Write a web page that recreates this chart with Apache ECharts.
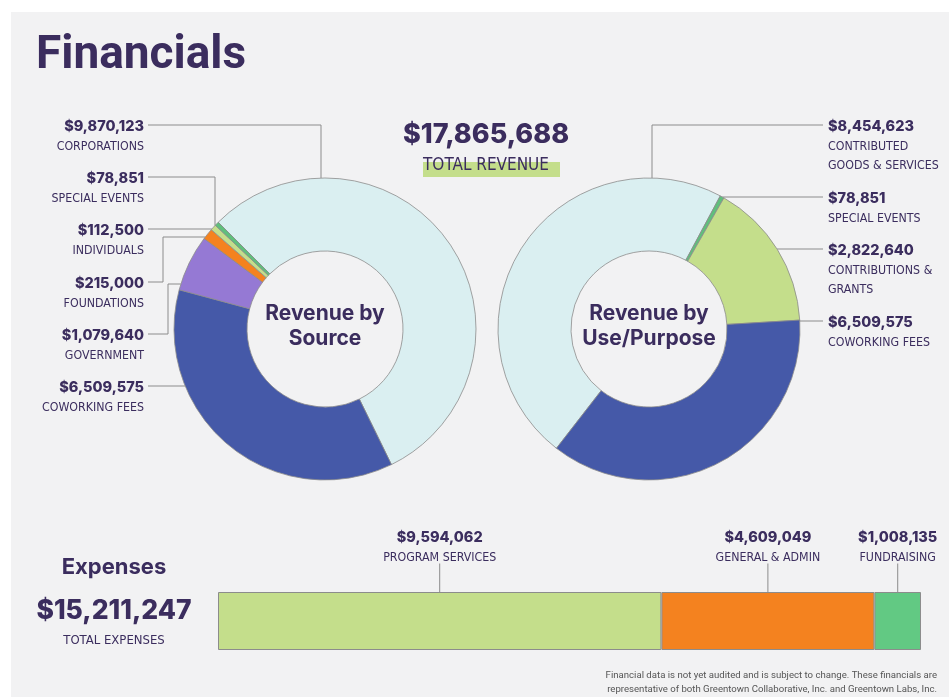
<!DOCTYPE html>
<html>
<head>
<meta charset="utf-8">
<script src="https://cdn.jsdelivr.net/npm/echarts@6/dist/echarts.min.js"></script>
<style>
  html, body { margin: 0; padding: 0; background: #ffffff; }
  #chart { width: 949px; height: 697px; }
</style>
</head>
<body>
<div id="chart"></div>
<script>
// Revenue by source (clockwise slice order)
const sourceNames = ['Corporations', 'Coworking Fees', 'Government', 'Foundations', 'Individuals', 'Special Events'];
const sourceValues = [9870123, 6509575, 1079640, 215000, 112500, 78851];

// Revenue by use / purpose (clockwise slice order)
const purposeNames = ['Contributed\nGoods & Services', 'Special Events', 'Contributions &\nGrants', 'Coworking Fees'];
const purposeValues = [8454623, 78851, 2822640, 6509575];

// Expenses
const expenseNames = ['Program Services', 'General & Admin', 'Fundraising'];
const expenseValues = [9594062, 4609049, 1008135];

const totalRevenue = 17865688;
const totalExpenses = 15211247;

// ---- styling ----
const INK = '#3b2d5e';
const LINE = '#8c8c8c';
const C = {
  lightBlue: '#daeff1',
  darkBlue: '#4559a8',
  purple: '#9579d4',
  orange: '#f4821f',
  lightGreen: '#c4de8b',
  green: '#5fbf7c',
  barGreen: '#62c983'
};
const sourceColors = [C.lightBlue, C.darkBlue, C.purple, C.orange, C.lightGreen, C.green];
const purposeColors = [C.lightBlue, C.green, C.lightGreen, C.darkBlue];
const expenseColors = [C.lightGreen, C.orange, C.barGreen];

const VALUE_FONT = 'Inter';
const NAME_FONT = "'DejaVu Sans Condensed', 'Liberation Sans Narrow', 'Roboto', sans-serif";

// donut geometry
const leftCenter = [325, 329];
const rightCenter = [649, 329];
const R_IN = 78, R_OUT = 151;

// leader-line routing for each label (same order as the data)
const sourcePlan = [
  { y: 125, route: 'v', elbowX: 321 },
  { y: 386, route: 'h' },
  { y: 334, route: 'hvh', elbowX: 168, targetY: 284 },
  { y: 282, route: 'hvh', elbowX: 163, targetY: 237 },
  { y: 229, route: 'h' },
  { y: 177, route: 'v', elbowX: 215 }
];
const purposePlan = [
  { y: 125, route: 'v', elbowX: 652 },
  { y: 197, route: 'h' },
  { y: 249, route: 'h' },
  { y: 321, route: 'h' }
];

const money = v => '$' + v.toLocaleString('en-US');

function arcX(c, r, y, side) {
  const dy = y - c[1];
  return c[0] + side * Math.sqrt(Math.max(0, r * r - dy * dy));
}
function arcTopY(c, r, x) {
  const dx = x - c[0];
  return c[1] - Math.sqrt(Math.max(0, r * r - dx * dx));
}
function leader(c, side, startX, p) {
  if (p.route === 'v') {
    return [[startX, p.y], [p.elbowX, p.y], [p.elbowX, arcTopY(c, R_OUT, p.elbowX)]];
  }
  if (p.route === 'hvh') {
    return [[startX, p.y], [p.elbowX, p.y], [p.elbowX, p.targetY], [arcX(c, R_OUT, p.targetY, side), p.targetY]];
  }
  return [[startX, p.y], [arcX(c, R_OUT, p.y, side), p.y]];
}

function richFor(align) {
  return {
    v: { fontFamily: VALUE_FONT, fontWeight: 800, fontSize: 14.5, color: INK, lineHeight: 20, align: align },
    n: { fontFamily: NAME_FONT, fontWeight: 500, fontSize: 12.3, color: INK, lineHeight: 19, align: align }
  };
}
function labelText(name, value) {
  const lines = name.toUpperCase().split('\n').map(s => '{n|' + s + '}');
  return '{v|' + money(value) + '}\n' + lines.join('\n');
}

function pieSeries(names, values, colors, center, startAngle, side, plan) {
  const textX = side < 0 ? 144 : 828;
  const lineX = side < 0 ? 148 : 823;
  return {
    type: 'pie',
    center: center,
    radius: [R_IN, R_OUT],
    startAngle: startAngle,
    clockwise: true,
    avoidLabelOverlap: false,
    silent: true,
    itemStyle: { borderColor: LINE, borderWidth: 0.8 },
    label: {
      show: true,
      position: 'outside',
      formatter: p => labelText(names[p.dataIndex], values[p.dataIndex]),
      rich: richFor(side < 0 ? 'right' : 'left')
    },
    labelLine: { show: true, length: 10, length2: 10, smooth: false, lineStyle: { color: LINE, width: 1 } },
    labelLayout: function (p) {
      const pl = plan[p.dataIndex];
      return {
        x: textX,
        y: pl.y - 8,
        align: side < 0 ? 'right' : 'left',
        verticalAlign: 'top',
        labelLinePoints: leader(center, side, lineX, pl)
      };
    },
    data: values.map((v, i) => ({ name: names[i], value: v, itemStyle: { color: colors[i] } }))
  };
}

const expenseSeries = expenseNames.map((name, i) => ({
  type: 'bar',
  stack: 'expenses',
  name: name,
  barWidth: 58,
  silent: true,
  itemStyle: { color: expenseColors[i], borderColor: LINE, borderWidth: 1 },
  label: {
    show: true,
    position: 'top',
    distance: 25,
    formatter: p => '{v|' + money(p.value) + '}\n{n|' + name.toUpperCase() + '}',
    rich: richFor('center')
  },
  labelLine: { show: true, lineStyle: { color: LINE, width: 1 } },
  labelLayout: function (p) {
    const cx = p.rect.x + p.rect.width / 2;
    return {
      x: cx,
      y: p.rect.y - 25,
      align: 'center',
      verticalAlign: 'bottom',
      labelLinePoints: [[cx, p.rect.y], [cx, p.rect.y - 25]]
    };
  },
  data: [expenseValues[i]]
}));

const expenseSum = expenseValues.reduce((a, b) => a + b, 0);

const chart = echarts.init(document.getElementById('chart'), null, { renderer: 'canvas' });

chart.setOption({
  animation: false,
  backgroundColor: '#ffffff',
  grid: { left: 218, top: 592, width: 703, height: 58 },
  xAxis: { type: 'value', min: 0, max: expenseSum, show: false },
  yAxis: { type: 'category', data: ['Expenses'], show: false },
  graphic: [
    { type: 'rect', z: -10, shape: { x: 11, y: 12, width: 938, height: 685 }, style: { fill: '#f2f2f3' } },
    { type: 'text', x: 36, y: 56, style: { text: 'Financials', font: 'bold 46px Roboto', fill: INK, verticalAlign: 'middle' } },
    { type: 'text', x: leftCenter[0], y: 326, style: { text: 'Revenue by\nSource', font: 'bold 21px Inter', fill: INK, align: 'center', verticalAlign: 'middle', lineHeight: 25 } },
    { type: 'text', x: rightCenter[0], y: 326, style: { text: 'Revenue by\nUse/Purpose', font: 'bold 21px Inter', fill: INK, align: 'center', verticalAlign: 'middle', lineHeight: 25 } },
    { type: 'text', x: 486, y: 135, style: { text: money(totalRevenue), font: '800 27px Inter', fill: INK, align: 'center', verticalAlign: 'middle' } },
    { type: 'rect', shape: { x: 423, y: 162, width: 137, height: 15 }, style: { fill: C.lightGreen } },
    { type: 'text', x: 486, y: 166, style: { text: 'TOTAL REVENUE', font: "500 17px " + NAME_FONT, fill: INK, align: 'center', verticalAlign: 'middle' } },
    { type: 'text', x: 114, y: 567, style: { text: 'Expenses', font: 'bold 22px Inter', fill: INK, align: 'center', verticalAlign: 'middle' } },
    { type: 'text', x: 114, y: 611, style: { text: money(totalExpenses), font: '800 26.5px Inter', fill: INK, align: 'center', verticalAlign: 'middle' } },
    { type: 'text', x: 114, y: 641, style: { text: 'TOTAL EXPENSES', font: "500 13px " + NAME_FONT, fill: INK, align: 'center', verticalAlign: 'middle' } },
    { type: 'text', x: 937, y: 683, style: {
        text: 'Financial data is not yet audited and is subject to change. These financials are\nrepresentative of both Greentown Collaborative, Inc. and Greentown Labs, Inc.',
        font: '9.6px Roboto', fill: '#555555', align: 'right', verticalAlign: 'middle', lineHeight: 14 } }
  ],
  series: [
    pieSeries(sourceNames, sourceValues, sourceColors, leftCenter, 135, -1, sourcePlan),
    pieSeries(purposeNames, purposeValues, purposeColors, rightCenter, 232.2, 1, purposePlan)
  ].concat(expenseSeries)
});
</script>
</body>
</html>
